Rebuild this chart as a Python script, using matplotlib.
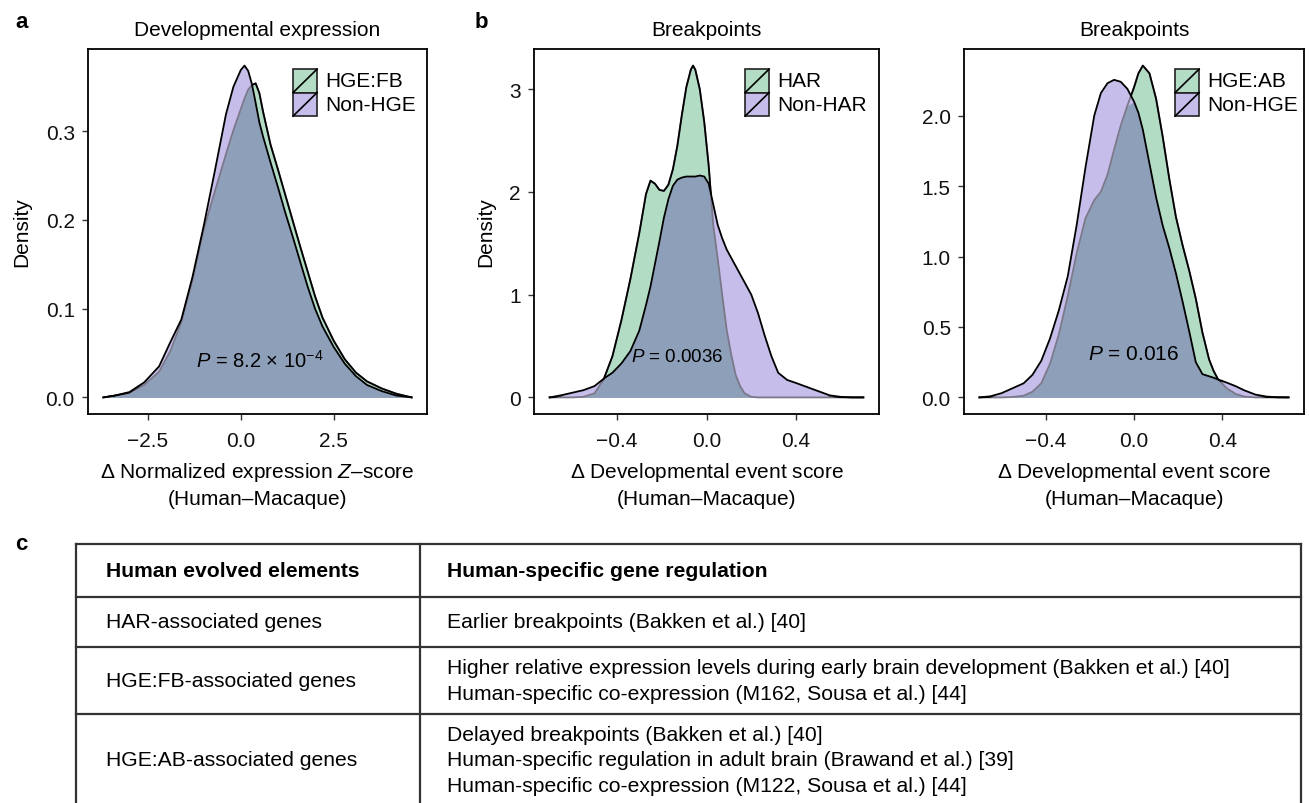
import numpy as np
import matplotlib
matplotlib.use("Agg")
import matplotlib.pyplot as plt
from matplotlib.patches import Rectangle, Polygon

plt.rcParams["font.family"] = ["Liberation Sans", "DejaVu Sans"]
plt.rcParams["mathtext.fontset"] = "custom"
plt.rcParams["mathtext.rm"] = "Liberation Sans"
plt.rcParams["mathtext.it"] = "Liberation Sans:italic"
plt.rcParams["mathtext.bf"] = "Liberation Sans:bold"

# ---- panel a: developmental expression (density curves)
a_x = [-3.7, -3.4, -3.0, -2.6, -2.2, -1.9, -1.6, -1.3, -1.0, -0.7, -0.4, -0.2,
       0.0, 0.1, 0.2, 0.3, 0.4, 0.5, 0.6, 0.8, 1.0, 1.2, 1.4, 1.6, 1.8, 2.0,
       2.2, 2.5, 2.8, 3.1, 3.4, 3.8, 4.2, 4.6]
a_hge = [0.000, 0.002, 0.005, 0.014, 0.029, 0.052, 0.085, 0.132, 0.189, 0.232,
         0.274, 0.301, 0.325, 0.337, 0.347, 0.352, 0.354, 0.343, 0.322, 0.285,
         0.257, 0.228, 0.199, 0.170, 0.142, 0.114, 0.090, 0.064, 0.043, 0.028,
         0.018, 0.010, 0.004, 0.000]
a_non = [0.000, 0.002, 0.006, 0.017, 0.035, 0.062, 0.088, 0.136, 0.193, 0.255,
         0.319, 0.350, 0.369, 0.374, 0.368, 0.353, 0.332, 0.310, 0.294, 0.265,
         0.237, 0.208, 0.181, 0.153, 0.125, 0.100, 0.080, 0.057, 0.038, 0.024,
         0.014, 0.007, 0.002, 0.000]

# ---- panel b: breakpoints, HAR vs non-HAR
b_x = [-0.70, -0.65, -0.60, -0.55, -0.50, -0.46, -0.42, -0.38, -0.34, -0.30,
       -0.27, -0.25, -0.23, -0.21, -0.19, -0.17, -0.15, -0.13, -0.11, -0.09,
       -0.07, -0.06, -0.05, -0.03, -0.01, 0.01, 0.03, 0.05, 0.07, 0.09, 0.11,
       0.13, 0.15, 0.17, 0.20, 0.23, 0.26, 0.29, 0.32, 0.36, 0.40, 0.45, 0.50,
       0.55, 0.60, 0.65, 0.70]
b_har = [0.0, 0.0, 0.0, 0.005, 0.04, 0.17, 0.40, 0.75, 1.15, 1.60,
         1.98, 2.11, 2.08, 2.02, 2.01, 2.07, 2.22, 2.45, 2.75, 3.02,
         3.19, 3.23, 3.19, 3.00, 2.68, 2.25, 1.68, 1.35, 1.00, 0.66, 0.42,
         0.22, 0.11, 0.04, 0.005, 0.0, 0.0, 0.0, 0.0, 0.0, 0.0, 0.0, 0.0,
         0.0, 0.0, 0.0, 0.0]
b_non = [0.0, 0.02, 0.045, 0.07, 0.11, 0.18, 0.24, 0.33, 0.45, 0.65,
         0.90, 1.08, 1.30, 1.52, 1.75, 1.93, 2.06, 2.12, 2.14, 2.15,
         2.15, 2.15, 2.15, 2.16, 2.15, 2.08, 1.88, 1.68, 1.55, 1.44, 1.36,
         1.28, 1.20, 1.12, 1.00, 0.82, 0.60, 0.40, 0.24, 0.17, 0.14, 0.10, 0.06,
         0.02, 0.005, 0.0, 0.0]

# ---- panel c: breakpoints, HGE:AB vs non-HGE
c_x = [-0.70, -0.65, -0.60, -0.55, -0.50, -0.46, -0.42, -0.38, -0.34, -0.30,
       -0.26, -0.22, -0.18, -0.15, -0.12, -0.09, -0.06, -0.03, 0.0, 0.02,
       0.04, 0.07, 0.10, 0.13, 0.16, 0.19, 0.22, 0.25, 0.28, 0.31, 0.34,
       0.36, 0.38, 0.42, 0.46, 0.50, 0.55, 0.60, 0.65, 0.70]
c_hge = [0.0, 0.0, 0.0, 0.003, 0.012, 0.04, 0.10, 0.24, 0.45, 0.72,
         1.02, 1.27, 1.40, 1.46, 1.58, 1.76, 1.93, 2.07, 2.20, 2.30,
         2.355, 2.30, 2.12, 1.85, 1.55, 1.28, 1.08, 0.90, 0.70, 0.46, 0.27,
         0.19, 0.13, 0.065, 0.025, 0.006, 0.0, 0.0, 0.0, 0.0]
c_non = [0.0, 0.008, 0.03, 0.065, 0.10, 0.16, 0.26, 0.42, 0.62, 0.86,
         1.22, 1.63, 2.00, 2.16, 2.23, 2.254, 2.24, 2.19, 2.10, 2.02,
         1.90, 1.66, 1.42, 1.22, 1.06, 0.88, 0.68, 0.47, 0.25, 0.165, 0.15,
         0.14, 0.128, 0.105, 0.08, 0.05, 0.02, 0.006, 0.001, 0.0]

titles = ["Developmental expression", "Breakpoints", "Breakpoints"]
legend_labels = [["HGE:FB", "Non-HGE"], ["HAR", "Non-HAR"], ["HGE:AB", "Non-HGE"]]
xlabels = ["$\\Delta$ Normalized expression $\\mathit{Z}$\u2013score\n(Human\u2013Macaque)",
           "$\\Delta$ Developmental event score\n(Human\u2013Macaque)",
           "$\\Delta$ Developmental event score\n(Human\u2013Macaque)"]
ylabels = ["Density", "Density", ""]
xticks = [[-2.5, 0.0, 2.5], [-0.4, 0.0, 0.4], [-0.4, 0.0, 0.4]]
yticks = [[0.0, 0.1, 0.2, 0.3], [0, 1, 2, 3], [0.0, 0.5, 1.0, 1.5, 2.0]]
ytick_fmt = ["{:.1f}", "{:d}", "{:.1f}"]
pvals = ["$\\mathit{P}$ = 8.2 \u00d7 10$^{\\mathregular{-4}}$",
         "$\\mathit{P}$ = 0.0036", "$\\mathit{P}$ = 0.016"]
pval_pos = [(0.52, 0.042), (-0.13, 0.40), (0.0, 0.31)]
pval_size = [14.5, 13.5, 15]

# ---- panel c table
tbl_header = ["Human evolved elements", "Human-specific gene regulation"]
tbl_elements = ["HAR-associated genes", "HGE:FB-associated genes",
                "HGE:AB-associated genes"]
tbl_regulation = [
    ["Earlier breakpoints (Bakken et al.) [40]"],
    ["Higher relative expression levels during early brain development (Bakken et al.) [40]",
     "Human-specific co-expression (M162, Sousa et al.) [44]"],
    ["Delayed breakpoints (Bakken et al.) [40]",
     "Human-specific regulation in adult brain (Brawand et al.) [39]",
     "Human-specific co-expression (M122, Sousa et al.) [44]"],
]

GREEN = "#b3dcc5"
PURPLE = "#c6bdea"
OVERLAP = "#8ea0b9"
HIDDEN = "#7b788a"
LW = 1.3


def minus(s):
    return s.replace("-", "\u2212")


W, H = 1309, 804
fig = plt.figure(figsize=(W / 100, H / 100), dpi=100)

# axes boxes in pixels: left, top, right, bottom
boxes = [(88, 50, 427, 415), (534, 50, 879, 415), (964, 50, 1304, 415)]
key_left = [0.605, 0.612, 0.621]

series = [(a_x, a_hge, a_non), (b_x, b_har, b_non), (c_x, c_hge, c_non)]

for i, (x, g, p) in enumerate(series):
    l, t, r, b = boxes[i]
    ax = fig.add_axes([l / W, 1 - b / H, (r - l) / W, (b - t) / H])
    x = np.array(x, dtype=float)
    g = np.array(g, dtype=float)
    p = np.array(p, dtype=float)

    ax.fill_between(x, g, color=GREEN, lw=0, zorder=1)
    ax.fill_between(x, p, color=PURPLE, lw=0, zorder=1.1)
    ax.fill_between(x, np.minimum(g, p), color=OVERLAP, lw=0, zorder=1.2)

    span = x.max() - x.min()
    top = max(g.max(), p.max())

    # the lower layer's outline shows grey where the upper fill covers it:
    # grey everywhere, black only above the purple curve
    ax.plot(x, g, color=HIDDEN, lw=LW, zorder=2)
    above = np.vstack([np.column_stack([x, p - 0.004 * top]),
                       [[x[-1] + span, p[-1]], [x[-1] + span, 10 * top],
                        [x[0] - span, 10 * top], [x[0] - span, p[0]]]])
    clip = Polygon(above, closed=True, transform=ax.transData,
                   facecolor="none", edgecolor="none")
    gl, = ax.plot(x, g, color="black", lw=LW, zorder=3)
    gl.set_clip_path(clip)
    ax.plot(x, p, color="black", lw=LW, zorder=4)

    ax.set_xlim(x.min() - 0.05 * span, x.max() + 0.05 * span)
    ax.set_ylim(-0.05 * top, 1.05 * top)

    ax.set_xticks(xticks[i])
    ax.set_xticklabels([minus("{:.1f}".format(v)) for v in xticks[i]])
    ax.set_yticks(yticks[i])
    ax.set_yticklabels([ytick_fmt[i].format(v) for v in yticks[i]])
    ax.tick_params(direction="out", length=4.5, width=1, color="#333333",
                   labelsize=15, labelcolor="#111111")
    ax.tick_params(axis="x", pad=8)
    ax.tick_params(axis="y", pad=5)
    for s in ax.spines.values():
        s.set_linewidth(1.3)
        s.set_color("black")

    ax.set_title(titles[i], fontsize=15, pad=10)
    ax.set_xlabel(xlabels[i], fontsize=15, labelpad=7, linespacing=1.4)
    if ylabels[i]:
        ax.set_ylabel(ylabels[i], fontsize=15, labelpad=10)

    ax.text(pval_pos[i][0], pval_pos[i][1], pvals[i], fontsize=pval_size[i],
            ha="center", va="center", zorder=6)

    # legend keys: filled square with the diagonal outline stroke
    kw, kh = 24 / (r - l), 23.5 / (b - t)
    for j, col in enumerate([GREEN, PURPLE]):
        y0 = 0.945 - (j + 1) * kh
        ax.add_patch(Rectangle((key_left[i], y0), kw, kh, transform=ax.transAxes,
                               facecolor=col, edgecolor="#222222", lw=1.2,
                               zorder=7, clip_on=False))
        ax.plot([key_left[i], key_left[i] + kw], [y0, y0 + kh],
                transform=ax.transAxes, color="black", lw=1.2, zorder=8)
        ax.text(key_left[i] + kw + 8 / (r - l), y0 + kh / 2, legend_labels[i][j],
                transform=ax.transAxes, fontsize=15, va="center", ha="left",
                zorder=8)

# panel letters
fig.text(15 / W, 1 - 28 / H, "a", fontsize=16, fontweight="bold", va="baseline")
fig.text(475 / W, 1 - 28 / H, "b", fontsize=16, fontweight="bold", va="baseline")
fig.text(15 / W, 1 - 550 / H, "c", fontsize=16, fontweight="bold", va="baseline")

# table drawn in pixel coordinates
tax = fig.add_axes([0, 0, 1, 1])
tax.set_xlim(0, W)
tax.set_ylim(H, 0)
tax.axis("off")
tbl_left, tbl_split, tbl_right = 76, 420, 1301
row_h = [53, 50, 67, 92]
edges = np.cumsum([545] + row_h)
for e in edges:
    tax.plot([tbl_left, tbl_right], [e, e], color="#333333", lw=1.6)
for xv in (tbl_left, tbl_split, tbl_right):
    tax.plot([xv, xv], [edges[0], edges[-1]], color="#333333", lw=1.6)

line_gap = 25.5
tfs = 15.2
col1, col2 = 106, 447
mid = (edges[0] + edges[1]) / 2
tax.text(col1, mid, tbl_header[0], fontsize=tfs, fontweight="bold", va="center")
tax.text(col2, mid, tbl_header[1], fontsize=tfs, fontweight="bold", va="center")
for k in range(len(tbl_elements)):
    mid = (edges[k + 1] + edges[k + 2]) / 2
    tax.text(col1, mid, tbl_elements[k], fontsize=tfs, va="center")
    lines = tbl_regulation[k]
    for n, s in enumerate(lines):
        yy = mid + (n - (len(lines) - 1) / 2) * line_gap
        tax.text(col2, yy, s, fontsize=tfs, va="center")

fig.savefig("out.png", dpi=100)
